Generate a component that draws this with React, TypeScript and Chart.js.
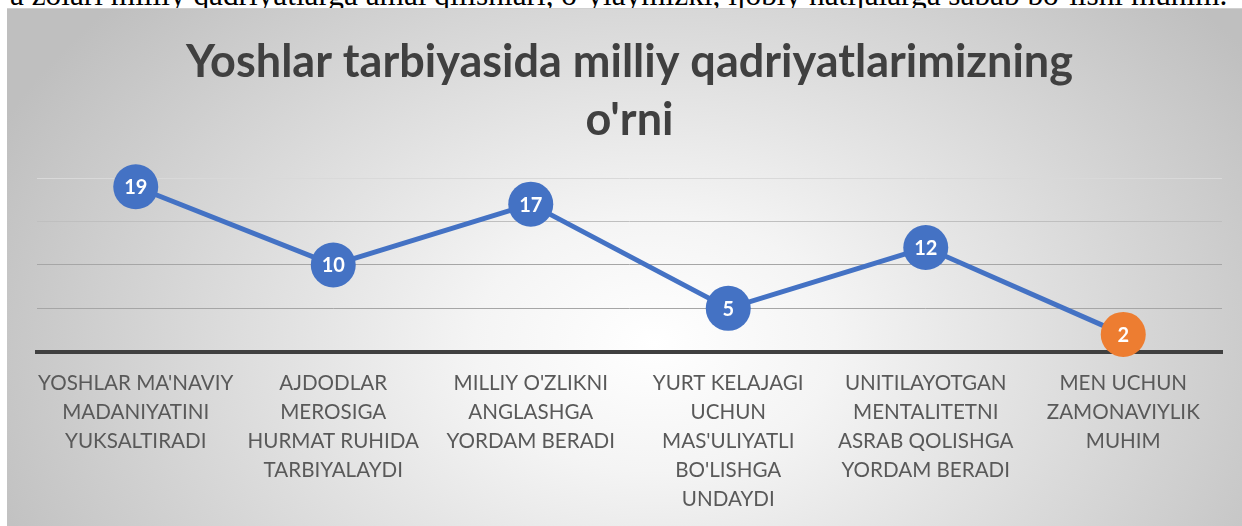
import React, { useEffect, useRef } from "react";
import { Chart, registerables } from "chart.js";

Chart.register(...registerables);

const categories: string[][] = [
  ["YOSHLAR MA'NAVIY", "MADANIYATINI", "YUKSALTIRADI"],
  ["AJDODLAR", "MEROSIGA", "HURMAT RUHIDA", "TARBIYALAYDI"],
  ["MILLIY O'ZLIKNI", "ANGLASHGA", "YORDAM BERADI"],
  ["YURT KELAJAGI", "UCHUN", "MAS'ULIYATLI", "BO'LISHGA", "UNDAYDI"],
  ["UNITILAYOTGAN", "MENTALITETNI", "ASRAB QOLISHGA", "YORDAM BERADI"],
  ["MEN UCHUN", "ZAMONAVIYLIK", "MUHIM"],
];
const values: number[] = [19, 10, 17, 5, 12, 2];
const pointColors: string[] = ["#4472C4", "#4472C4", "#4472C4", "#4472C4", "#4472C4", "#ED7D31"];
const titleLines: string[] = ["Yoshlar tarbiyasida milliy qadriyatlarimizning", "o'rni"];
const yMin = 0;
const yMax = 20;
const yStep = 5;
const aboveText =
  "a zolari milliy qadriyatlarga amal qilishlari, o`ylaymizki, ijobiy natijalarga sabab bo`lishi muhim.";

const valueLabelPlugin = {
  id: "valueLabels",
  afterDatasetsDraw(chart: any) {
    const ctx = chart.ctx;
    const meta = chart.getDatasetMeta(0);
    ctx.save();
    ctx.font = "bold 20px Lato";
    ctx.fillStyle = "#ffffff";
    ctx.textAlign = "center";
    ctx.textBaseline = "middle";
    meta.data.forEach((pt: any, i: number) => {
      ctx.fillText(String(chart.data.datasets[0].data[i]), pt.x, pt.y + 1);
    });
    ctx.restore();
  },
};

function gridColor(c: any): string {
  const v = c.tick ? c.tick.value : null;
  if (v === 20) return "#d9d9d9";
  if (v === 15) return "#bfbfbf";
  if (v === 10 || v === 5) return "#a6a6a6";
  return "rgba(0,0,0,0)";
}

export default function App() {
  const ref = useRef<HTMLCanvasElement | null>(null);

  useEffect(() => {
    if (!ref.current) return;
    const chart = new Chart(ref.current, {
      type: "line",
      data: {
        labels: categories,
        datasets: [
          {
            data: values,
            borderColor: "#4472C4",
            borderWidth: 5,
            pointRadius: 22.5,
            pointHoverRadius: 22.5,
            pointBackgroundColor: pointColors,
            pointBorderColor: pointColors,
            pointBorderWidth: 0,
            tension: 0,
            clip: false,
          },
        ],
      },
      options: {
        responsive: false,
        animation: false,
        events: [],
        layout: { padding: { left: 30, right: 30, top: 0, bottom: 12 } },
        plugins: {
          legend: { display: false },
          tooltip: { enabled: false },
          title: {
            display: true,
            text: titleLines,
            color: "#404040",
            font: { family: "Lato", weight: "bold", size: 45, lineHeight: 1.29 },
            padding: { top: 25, bottom: 29 },
          },
        },
        scales: {
          x: {
            offset: true,
            grid: { display: false, drawTicks: false },
            border: { display: true, color: "#404040", width: 4 },
            ticks: {
              color: "#595959",
              font: { family: "Lato", size: 20.6, lineHeight: 1.41 },
              padding: 17,
              maxRotation: 0,
              minRotation: 0,
              autoSkip: false,
            },
          },
          y: {
            min: yMin,
            max: yMax,
            ticks: { display: false, stepSize: yStep },
            grid: { color: gridColor, lineWidth: 1, drawTicks: false },
            border: { display: false },
          },
        },
      },
      plugins: [valueLabelPlugin],
    });
    return () => chart.destroy();
  }, []);

  return (
    <div
      style={{
        position: "fixed",
        left: 0,
        top: 0,
        width: 1242,
        height: 526,
        overflow: "hidden",
        background: "#ffffff",
      }}
    >
      <div
        style={{
          position: "absolute",
          left: 10,
          top: -21,
          fontFamily: "'Liberation Serif', serif",
          fontSize: 31.3,
          lineHeight: "31px",
          whiteSpace: "nowrap",
          color: "#000",
        }}
      >
        {aboveText}
      </div>
      <div
        style={{
          position: "absolute",
          left: 7,
          top: 8,
          width: 1245,
          height: 540,
          borderTop: "1px solid #d0d0d0",
          boxSizing: "border-box",
          overflow: "hidden",
          background:
            "radial-gradient(ellipse 58% 95% at 52% 62%, #ffffff 0%, #f4f4f4 25%, #bfbfbf 100%)",
        }}
      >
        <canvas ref={ref} width={1245} height={535} style={{ position: "absolute", left: 0, top: -1, display: "block" }} />
      </div>
    </div>
  );
}
